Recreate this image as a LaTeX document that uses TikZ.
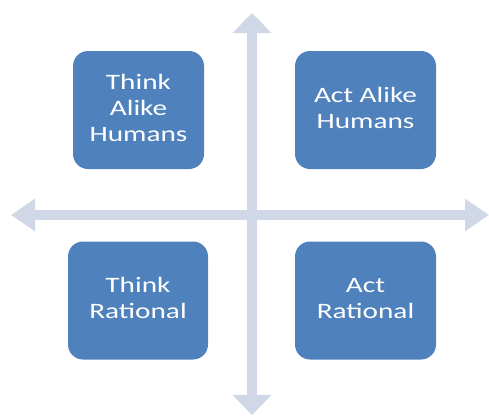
\documentclass[tikz,border=0pt]{standalone}
\usepackage{fontspec}
\setmainfont{Carlito}
\usetikzlibrary{arrows.meta,positioning}
\definecolor{boxblue}{RGB}{79,129,189}
\definecolor{axisgrey}{RGB}{208,216,232}
% labels are set a little wide
\newcommand\lbl[1]{\scalebox{1.33}[1]{\begin{tabular}{@{}c@{}}#1\end{tabular}}}

\begin{document}
\begin{tikzpicture}[x=1pt,y=-1pt]
      \tikzstyle{quad}=[rectangle,rounded corners=15pt,fill=boxblue,text=white,minimum height=118pt,inner sep=0pt,font=\fontsize{22}{26}\selectfont]
      \tikzstyle{axisline}=[draw=axisgrey,line width=10pt]
      \useasboundingbox (0,0) rectangle (489,415);
      % the two axes
      \coordinate (N) at (252,13);
      \coordinate (S) at (252,415);
      \coordinate (W) at (11,215);
      \coordinate (E) at (489,215);
      \draw[axisline,{Triangle[length=20pt,width=38pt]}-{Triangle[length=20pt,width=38pt]}] (N) -- (S);
      \draw[axisline,{Triangle[length=24pt,width=31pt]}-{Triangle[length=24pt,width=31pt]}] (W) -- (E);
      % the four quadrants
      \node[quad,minimum width=131pt] at (138.5,110) (TH) {\lbl{Think\\Alike\\Humans}};
      \node[quad,minimum width=141pt] at (365.5,110) (AH) {\lbl{Act Alike\\Humans}};
      \node[quad,minimum width=140pt] at (138,300.5) (TR) {\lbl{Think\\Rational}};
      \node[quad,minimum width=141pt] at (365.5,300.5) (AR) {\lbl{Act\\Rational}};
\end{tikzpicture}
\end{document}
